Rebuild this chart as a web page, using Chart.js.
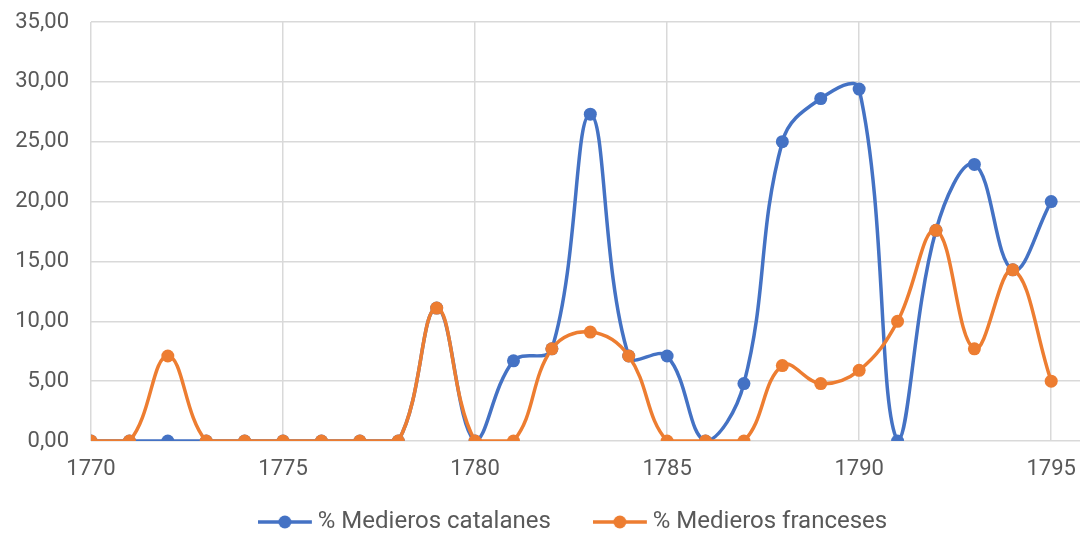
<!DOCTYPE html>
<html>
<head>
<meta charset="utf-8">
<script src="https://cdn.jsdelivr.net/npm/chart.js@4/dist/chart.umd.min.js"></script>
<style>
  html, body { margin: 0; padding: 0; background: #ffffff; }
  #wrap { width: 1081px; height: 535px; }
</style>
</head>
<body>
<div id="wrap"><canvas id="chart" width="1081" height="535"></canvas></div>
<script>
// Years on the horizontal axis
const years = [1770, 1771, 1772, 1773, 1774, 1775, 1776, 1777, 1778, 1779,
               1780, 1781, 1782, 1783, 1784, 1785, 1786, 1787, 1788, 1789,
               1790, 1791, 1792, 1793, 1794, 1795];

// Share of catalan sharecroppers (%)
const catalanes = [0, 0, 0, 0, 0, 0, 0, 0, 0, 11.1,
                   0, 6.7, 7.7, 27.3, 7.1, 7.1, 0, 4.8, 25.0, 28.6,
                   29.4, 0, 17.6, 23.1, 14.3, 20.0];

// Share of french sharecroppers (%)
const franceses = [0, 0, 7.1, 0, 0, 0, 0, 0, 0, 11.1,
                   0, 0, 7.7, 9.1, 7.1, 0, 0, 0, 6.3, 4.8,
                   5.9, 10.0, 17.6, 7.7, 14.3, 5.0];

const seriesNames = ['% Medieros catalanes', '% Medieros franceses'];
const yTicks = [0, 5, 10, 15, 20, 25, 30, 35];
const xTicks = [1770, 1775, 1780, 1785, 1790, 1795];

const BLUE = '#4472C4';
const ORANGE = '#ED7D31';
const TEXT = '#595959';
const GRID = '#d9d9d9';
const FONT = 'Roboto';

// Legend key: a narrow key box, the line-and-dot symbol (54 px) hangs out to
// its left and ends a few pixels before the label text
const KEY_BOX = 22;
const KEY_SYMBOL = 54;
const KEY_IMAGE = 74;

function toPoints(values) {
  return years.map((y, i) => ({ x: y, y: values[i] }));
}

// Legend symbol: short line with a dot in the middle, on a transparent strip
function legendSymbol(color) {
  const c = document.createElement('canvas');
  c.width = KEY_IMAGE; c.height = 16;
  const g = c.getContext('2d');
  g.strokeStyle = color; g.lineWidth = 3.5;
  g.beginPath(); g.moveTo(0, 8); g.lineTo(KEY_SYMBOL, 8); g.stroke();
  g.fillStyle = color;
  g.beginPath(); g.arc(KEY_SYMBOL / 2, 8, 6.5, 0, Math.PI * 2); g.fill();
  return c;
}

const fmt = v => v.toFixed(2).replace('.', ',');

function seriesStyle(color) {
  return {
    borderColor: color,
    backgroundColor: color,
    borderWidth: 3.5,
    pointRadius: 6.5,
    pointBorderWidth: 0,
    tension: 0.4,
    pointStyle: 'circle'
  };
}

// Axis labels may overhang the plot edges without shrinking it
function noOverhang(scale) {
  scale.paddingTop = 0;
  scale.paddingBottom = 0;
  scale.paddingLeft = 0;
  scale.paddingRight = 0;
}

new Chart(document.getElementById('chart'), {
  type: 'line',
  data: {
    datasets: [
      Object.assign({ label: seriesNames[0], data: toPoints(catalanes), order: 2 }, seriesStyle(BLUE)),
      Object.assign({ label: seriesNames[1], data: toPoints(franceses), order: 1 }, seriesStyle(ORANGE))
    ]
  },
  options: {
    responsive: false,
    animation: false,
    layout: { autoPadding: false, padding: { top: 22, right: 1, left: 0, bottom: -9 } },
    plugins: {
      tooltip: { enabled: false },
      legend: {
        position: 'bottom',
        fullSize: false,
        labels: {
          usePointStyle: true,
          pointStyleWidth: KEY_BOX,
          padding: 68,
          color: TEXT,
          font: { family: FONT, size: 24 },
          generateLabels(chart) {
            return chart.data.datasets.map((ds, i) => ({
              text: ds.label,
              fillStyle: ds.borderColor,
              strokeStyle: ds.borderColor,
              fontColor: TEXT,
              lineWidth: 0,
              pointStyle: legendSymbol(ds.borderColor),
              hidden: false,
              datasetIndex: i
            }));
          }
        }
      }
    },
    scales: {
      x: {
        type: 'linear',
        min: 1770,
        max: 1795.75,
        afterBuildTicks(scale) {
          scale.ticks = xTicks.map(v => ({ value: v }));
        },
        afterFit(scale) { scale.height = 1; noOverhang(scale); },
        grid: { color: GRID, lineWidth: 1.5, drawTicks: false },
        border: { display: false },
        ticks: {
          // mirrored with a negative offset: labels sit below the axis and
          // are not clipped to the thin axis box
          mirror: true,
          padding: -42,
          color: TEXT,
          font: { family: FONT, size: 22 },
          maxRotation: 0,
          callback: v => String(v)
        }
      },
      y: {
        min: 0,
        max: 35,
        afterBuildTicks(scale) {
          scale.ticks = yTicks.map(v => ({ value: v }));
        },
        afterFit(scale) { scale.width = 91; noOverhang(scale); },
        grid: { color: GRID, lineWidth: 1.5, drawTicks: false },
        border: { display: false },
        ticks: {
          padding: 22,
          color: TEXT,
          font: { family: FONT, size: 22 },
          callback: v => fmt(v)
        }
      }
    }
  }
});
</script>
</body>
</html>
